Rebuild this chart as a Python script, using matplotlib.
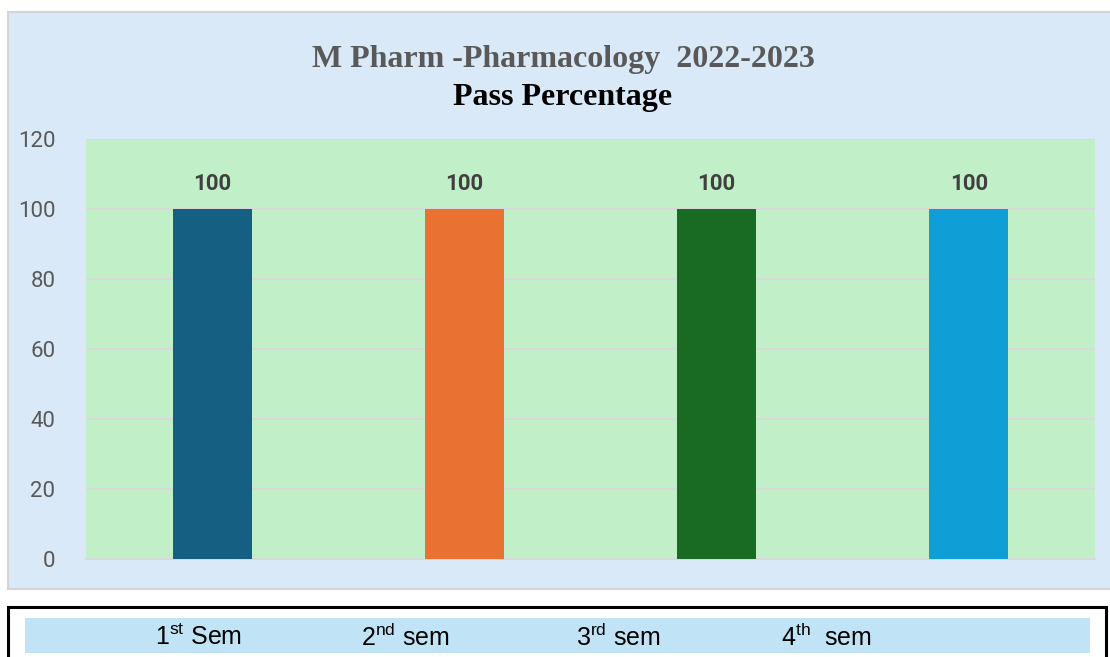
import matplotlib
matplotlib.use("Agg")
import matplotlib.pyplot as plt
from matplotlib.patches import Rectangle

# ── Data ─────────────────────────────────────────────────────────────────────
semesters = ["1st Sem", "2nd sem", "3rd sem", "4th sem"]
pass_pct = [100, 100, 100, 100]
legend_labels = [r"1$^{\mathrm{st}}$ Sem", r"2$^{\mathrm{nd}}$ sem",
                 r"3$^{\mathrm{rd}}$ sem", r"4$^{\mathrm{th}}$  sem"]
bar_colors = ["#156082", "#E97132", "#196B24", "#0F9ED5"]
yticks = [0, 20, 40, 60, 80, 100, 120]

# ── Style ────────────────────────────────────────────────────────────────────
plt.rcParams.update({
    "font.family": "Roboto",
    "mathtext.fontset": "custom",
    "mathtext.rm": "Liberation Sans",
    "mathtext.it": "Liberation Sans:italic",
    "mathtext.bf": "Liberation Sans:bold",
})

W, H = 1110, 657
fig = plt.figure(figsize=(W / 100, H / 100), dpi=100)
fig.patch.set_facecolor("white")


def fx(px):
    return px / W


def fy(py):
    return 1 - py / H


# outer chart panel
fig.patches.append(Rectangle((fx(8), fy(589)), fx(1110) - fx(8) + 0.01, fy(12) - fy(589),
                             transform=fig.transFigure, facecolor="#DAE9F7",
                             edgecolor="#D4D4D4", linewidth=1.5, zorder=-2))

# plot area
ax = fig.add_axes([fx(86), fy(559), fx(1095) - fx(86), fy(139) - fy(559)])
ax.set_facecolor("#C1F0C8")
x = list(range(len(semesters)))
bars = ax.bar(x, pass_pct, width=0.314, color=bar_colors, zorder=3)
ax.bar_label(bars, labels=[str(v) for v in pass_pct], padding=10,
             fontsize=16, fontweight="bold", color="#404040")

ax.set_xlim(-0.5, len(semesters) - 0.5)
ax.set_ylim(0, 120)
ax.set_yticks(yticks)
ax.set_xticks([])
ax.tick_params(axis="y", length=0, pad=22, labelsize=16, labelcolor="#595959")
ax.grid(axis="y", color="#D9D9D9", linewidth=1.5, zorder=1)
for s in ["top", "right", "left"]:
    ax.spines[s].set_visible(False)
ax.spines["bottom"].set_color("#D9D9D9")
ax.spines["bottom"].set_linewidth(1.5)

# titles
fig.text(fx(563), fy(59), "M Pharm -Pharmacology  2022-2023", ha="center", va="center",
         fontsize=23, fontweight="bold", family="Liberation Serif", color="#595959")
fig.text(fx(563), fy(97), "Pass Percentage", ha="center", va="center",
         fontsize=23, fontweight="bold", family="Liberation Serif", color="black")

# bottom label box
fig.patches.append(Rectangle((fx(8), fy(665)), fx(1106) - fx(8), fy(607) - fy(665),
                             transform=fig.transFigure, facecolor="white",
                             edgecolor="black", linewidth=2.2, zorder=-2))
fig.patches.append(Rectangle((fx(25), fy(653)), fx(1090) - fx(25), fy(618) - fy(653),
                             transform=fig.transFigure, facecolor="#C0E4F5",
                             edgecolor="none", zorder=-1))
label_x = [155, 361, 576, 781]
for lx, lab in zip(label_x, legend_labels):
    fig.text(fx(lx), fy(637), lab, ha="left", va="center", fontsize=18,
             family="Liberation Sans", color="black")

fig.savefig("out.png", dpi=100)
plt.close(fig)
